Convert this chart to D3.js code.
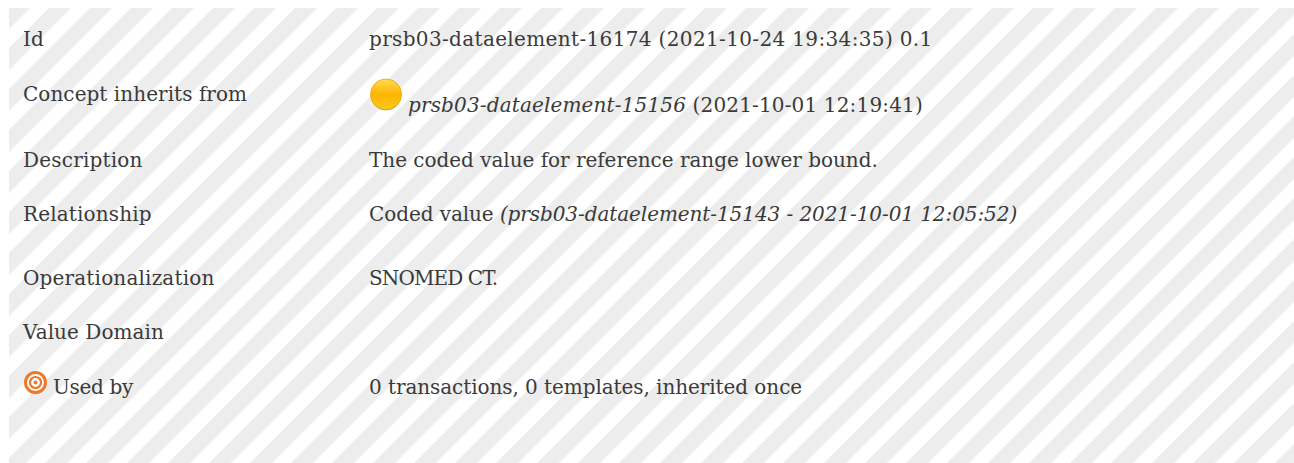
<!DOCTYPE html>
<html>
<head>
<meta charset="utf-8">
<script src="https://cdn.jsdelivr.net/npm/d3@7"></script>
<style>
  html, body { margin: 0; padding: 0; background: #fff; }
  text { font-family: "DejaVu Serif", serif; font-size: 20px; fill: #3a3a3a; }
</style>
</head>
<body>
<svg id="board" width="1294" height="463"></svg>
<script>
var labels = ["Id", "Concept inherits from", "Description", "Relationship", "Operationalization", "Value Domain", "Used by"];
var rowNames = ["id", "inherits", "description", "relationship", "operationalization", "domain", "usedby"];
// one list of [text, italic] runs per row
var values = [
  [["prsb03-dataelement-16174 (2021-10-24 19:34:35) 0.1", false]],
  [["prsb03-dataelement-15156", true], [" (2021-10-01 12:19:41)", false]],
  [["The coded value for reference range lower bound.", false]],
  [["Coded value ", false], ["(prsb03-dataelement-15143 - 2021-10-01 12:05:52)", true]],
  [["SNOMED CT.", false]],
  [],
  [["0 transactions, 0 templates, inherited once", false]]
];
var labelBaselines = [46, 101, 167, 221, 285, 339, 394];
var valueBaselines = [46, 112, 167, 221, 285, 339, 394];
// small nudges because the original face has other widths than DejaVu
var labelSpacing = [0, 0.05, 0.2, 0.15, 0.17, 0.05, -0.3];
var valueSpacing = [0.35, 0.15, -0.03, -0.08, -0.9, 0, -0.07];

var svg = d3.select("#board");
var defs = svg.append("defs");

var stripes = defs.append("pattern")
  .attr("id", "stripes")
  .attr("patternUnits", "userSpaceOnUse")
  .attr("width", 41)
  .attr("height", 41)
  .attr("patternTransform", "translate(8,8) rotate(45) scale(0.7071)");
stripes.append("rect").attr("width", 41).attr("height", 41).attr("fill", "#fff");
stripes.append("rect").attr("width", 22).attr("height", 41).attr("fill", "#ededed");

var ballGrad = defs.append("linearGradient").attr("id", "ball").attr("x1", 0).attr("y1", 0).attr("x2", 0).attr("y2", 1);
ballGrad.append("stop").attr("offset", 0).attr("stop-color", "#ffdc55");
ballGrad.append("stop").attr("offset", 0.5).attr("stop-color", "#ffb400");
ballGrad.append("stop").attr("offset", 1).attr("stop-color", "#fbc81e");

svg.append("rect").attr("x", 9).attr("y", 8).attr("width", 1285).attr("height", 455).attr("fill", "url(#stripes)");

var rows = d3.range(labels.length);

svg.selectAll("text.label").data(rows).enter().append("text")
  .attr("class", "label")
  .attr("id", function(d) { return "label-" + rowNames[d]; })
  .attr("x", function(d) { return d == 6 ? 53 : 23; })
  .attr("y", function(d) { return labelBaselines[d]; })
  .style("letter-spacing", function(d) { return labelSpacing[d] + "px"; })
  .text(function(d) { return labels[d]; });

svg.selectAll("text.value").data(rows).enter().append("text")
  .attr("class", "value")
  .attr("x", function(d) { return d == 1 ? 408 : 369; })
  .attr("y", function(d) { return valueBaselines[d]; })
  .style("letter-spacing", function(d) { return valueSpacing[d] + "px"; })
  .each(function(d) {
    var t = d3.select(this);
    values[d].forEach(function(run) {
      t.append("tspan")
        .attr("xml:space", "preserve")
        .style("white-space", "pre")
        .style("font-style", run[1] ? "italic" : "normal")
        .text(run[0]);
    });
  });

// status ball next to the inherited concept
var ball = svg.append("g").attr("transform", "translate(386,94.5)");
ball.append("circle").attr("r", 15.5).attr("fill", "url(#ball)").attr("stroke", "#e3a400").attr("stroke-width", 0.8);
ball.append("path").attr("d", "M-12,10 A15.5,15.5 0 0 0 12,10 A17,17 0 0 1 -12,10").attr("fill", "#9a9a7a").attr("opacity", 0.6);

// target icon next to Used by
var target = svg.append("g").attr("transform", "translate(35.5,382.5)");
target.append("circle").attr("r", 10).attr("fill", "#fff").attr("stroke", "#f0782a").attr("stroke-width", 3);
target.append("circle").attr("r", 5.5).attr("fill", "none").attr("stroke", "#f0782a").attr("stroke-width", 2.2);
target.append("circle").attr("r", 2).attr("fill", "#f0782a");
</script>
</body>
</html>
